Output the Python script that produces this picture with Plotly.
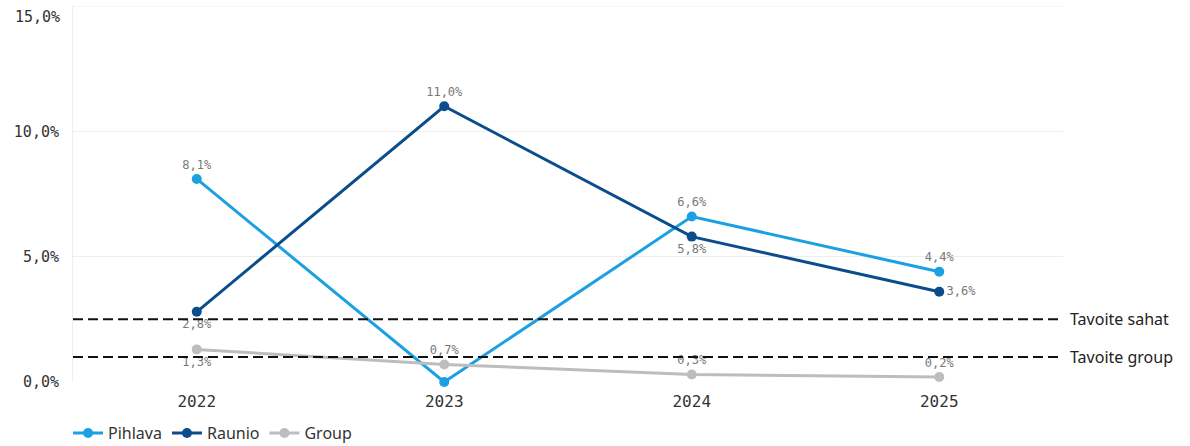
import plotly.graph_objects as go

years = ["2022", "2023", "2024", "2025"]
pihlava = [8.1, 0.0, 6.6, 4.4]
raunio = [2.8, 11.0, 5.8, 3.6]
group = [1.3, 0.7, 0.3, 0.2]
target_sahat = 2.5
target_group = 1.0
ytick_vals = [0, 5, 10, 15]
ytick_text = ["0,0%", "5,0%", "10,0%", "15,0%"]

def fmt(v):
    return f"{v:.1f}%".replace(".", ",")

series = [
    ("Pihlava", pihlava, "#1ba1e2", ["top center", "top center", "top center", "top center"], [True, False, True, True]),
    ("Raunio", raunio, "#0b4d8c", ["bottom center", "top center", "bottom center", "middle right"], [True, True, True, True]),
    ("Group", group, "#bdbdbd", ["bottom center", "top center", "top center", "top center"], [True, True, True, True]),
]

fig = go.Figure()
for name, vals, color, pos, show in series:
    fig.add_trace(go.Scatter(
        x=years, y=vals, name=name, mode="lines+markers+text",
        line=dict(color=color, width=3),
        marker=dict(color=color, size=10),
        text=[fmt(v) if s else "" for v, s in zip(vals, show)],
        textposition=pos,
        textfont=dict(family="DejaVu Sans Mono", size=12, color="#787878"),
        cliponaxis=False,
    ))

for val, label in [(target_sahat, "Tavoite sahat"), (target_group, "Tavoite group")]:
    fig.add_shape(type="line", xref="paper", yref="y", x0=0, x1=1, y0=val, y1=val,
                  line=dict(color="#111111", width=2, dash="10px,5px"))
    fig.add_annotation(xref="paper", yref="y", x=1, y=val, text=label, showarrow=False,
                       xanchor="left", xshift=5, font=dict(family="Noto Sans", size=16, color="#222222"))

# top tick label drawn slightly lower than its gridline (as in the reference)
fig.add_annotation(xref="paper", yref="y", x=0, y=ytick_vals[-1], text=ytick_text[-1], showarrow=False,
                   xanchor="right", xshift=-11, yshift=-11,
                   font=dict(family="DejaVu Sans Mono", size=15, color="#333333"))

fig.update_layout(
    width=1190, height=446,
    margin=dict(l=73, r=127, t=6, b=64, autoexpand=False),
    plot_bgcolor="white", paper_bgcolor="white",
    showlegend=True,
    legend=dict(orientation="h", x=-0.005, y=-0.136, yanchor="middle", xanchor="left",
                font=dict(family="Noto Sans", size=16, color="#333333"),
                itemwidth=30),
    xaxis=dict(range=[-0.5, 3.5], showgrid=False, showline=False, zeroline=False, ticks="",
               ticklabelstandoff=8,
               tickfont=dict(family="DejaVu Sans Mono", size=16, color="#333333")),
    yaxis=dict(range=[0, 15], tickvals=ytick_vals[:-1], ticktext=ytick_text[:-1],
               showgrid=True, gridcolor="#eeeeee", zeroline=False,
               showline=True, linecolor="#eeeeee", ticks="", ticklabelstandoff=10,
               tickfont=dict(family="DejaVu Sans Mono", size=15, color="#333333")),
)
fig.add_shape(type="line", xref="paper", yref="y", x0=0, x1=1, y0=15, y1=15,
              line=dict(color="#eeeeee", width=1), layer="below")

fig.write_html("out.html", config={"displayModeBar": False},
               post_script="document.body.style.margin='0';")
